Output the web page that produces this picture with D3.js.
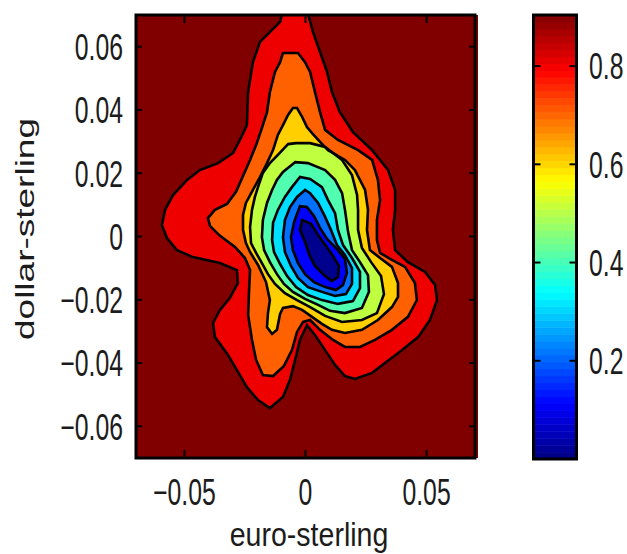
<!DOCTYPE html>
<html>
<head>
<meta charset="utf-8">
<script src="https://cdn.jsdelivr.net/npm/d3@7"></script>
<style>
  body { margin: 0; background: #fff; }
  text { font-family: "Liberation Sans", Arial, sans-serif; fill: #1c1c1c; }
</style>
</head>
<body>
<svg id="fig_contour" width="627" height="554"></svg>
<script>

// axes
var xDomain = [-0.07, 0.07];
var yDomain = [-0.07, 0.07];
var cDomain = [0, 0.904];
var xTicks = [-0.05, 0, 0.05];
var yTicks = [-0.06, -0.04, -0.02, 0, 0.02, 0.04, 0.06];
var cbarTicks = [0.2, 0.4, 0.6, 0.8];

// contour levels, and the colour of each filled band (highest band first)
var levels = [0.9, 0.8, 0.7, 0.6, 0.5, 0.4, 0.3, 0.2, 0.1];
var bandColors = ["#800000", "#ef0000", "#ff6000", "#ffcf00", "#bfff40",
                  "#50ffaf", "#00dfff", "#0070ff", "#0000ff", "#00008f"];

// jet colormap anchors for the colorbar
var jetStops = [0, 0.125, 0.375, 0.625, 0.875, 1];
var jetColors = ["#000080", "#0000ff", "#00ffff", "#ffff00", "#ff0000", "#800000"];

// contour rings [euro-sterling, dollar-sterling]
var ring_09 = [[-0.0093,0.0716],[0.0006,0.0716],[0.0031,0.0646],[0.0060,0.0583],[0.0089,0.0520],[0.0109,0.0457],
  [0.0142,0.0393],[0.0196,0.0330],[0.0275,0.0273],[0.0341,0.0210],[0.0370,0.0147],[0.0370,0.0084],[0.0361,0.0021],
  [0.0370,-0.0043],[0.0423,-0.0081],[0.0494,-0.0112],[0.0535,-0.0153],[0.0543,-0.0201],[0.0514,-0.0264],
  [0.0465,-0.0318],[0.0399,-0.0359],[0.0328,-0.0400],[0.0275,-0.0431],[0.0204,-0.0450],[0.0163,-0.0441],
  [0.0122,-0.0406],[0.0081,-0.0359],[0.0039,-0.0311],[0.0006,-0.0280],[-0.0023,-0.0327],[-0.0043,-0.0390],
  [-0.0064,-0.0453],[-0.0093,-0.0507],[-0.0147,-0.0542],[-0.0196,-0.0517],[-0.0242,-0.0476],[-0.0271,-0.0438],
  [-0.0320,-0.0374],[-0.0374,-0.0318],[-0.0382,-0.0273],[-0.0353,-0.0232],[-0.0312,-0.0194],[-0.0279,-0.0147],
  [-0.0283,-0.0106],[-0.0353,-0.0084],[-0.0465,-0.0065],[-0.0531,-0.0043],[-0.0572,-0.0005],[-0.0593,0.0036],
  [-0.0580,0.0084],[-0.0547,0.0131],[-0.0489,0.0179],[-0.0436,0.0210],[-0.0361,0.0232],[-0.0299,0.0264],
  [-0.0271,0.0305],[-0.0242,0.0352],[-0.0237,0.0457],[-0.0217,0.0551],[-0.0188,0.0615],[-0.0105,0.0678]];

var ring_08 = [[-0.0093,0.0580],[-0.0031,0.0580],[-0.0002,0.0551],[0.0019,0.0520],[0.0039,0.0457],[0.0060,0.0393],
  [0.0081,0.0337],[0.0134,0.0305],[0.0217,0.0273],[0.0275,0.0242],[0.0299,0.0179],[0.0308,0.0115],[0.0295,0.0052],
  [0.0295,-0.0011],[0.0308,-0.0052],[0.0357,-0.0074],[0.0411,-0.0096],[0.0452,-0.0147],[0.0460,-0.0201],
  [0.0423,-0.0254],[0.0357,-0.0295],[0.0287,-0.0327],[0.0225,-0.0349],[0.0163,-0.0349],[0.0114,-0.0327],
  [0.0060,-0.0295],[0.0019,-0.0264],[-0.0010,-0.0270],[-0.0035,-0.0302],[-0.0056,-0.0359],[-0.0089,-0.0409],
  [-0.0134,-0.0441],[-0.0176,-0.0438],[-0.0204,-0.0390],[-0.0221,-0.0327],[-0.0237,-0.0248],[-0.0233,-0.0169],
  [-0.0229,-0.0106],[-0.0250,-0.0068],[-0.0291,-0.0033],[-0.0353,0.0002],[-0.0394,0.0033],[-0.0403,0.0058],
  [-0.0374,0.0084],[-0.0324,0.0103],[-0.0287,0.0141],[-0.0258,0.0191],[-0.0229,0.0242],[-0.0204,0.0289],
  [-0.0180,0.0343],[-0.0159,0.0393],[-0.0147,0.0457],[-0.0126,0.0520],[-0.0105,0.0551]];

var ring_07 = [[-0.0052,0.0406],[-0.0035,0.0406],[-0.0014,0.0378],[0.0006,0.0346],[0.0027,0.0327],[0.0060,0.0299],
  [0.0093,0.0273],[0.0163,0.0242],[0.0204,0.0210],[0.0246,0.0147],[0.0258,0.0084],[0.0254,0.0021],[0.0266,-0.0043],
  [0.0308,-0.0068],[0.0357,-0.0096],[0.0382,-0.0147],[0.0382,-0.0191],[0.0357,-0.0223],[0.0299,-0.0264],
  [0.0233,-0.0295],[0.0163,-0.0305],[0.0109,-0.0295],[0.0068,-0.0276],[0.0027,-0.0254],[-0.0014,-0.0232],
  [-0.0052,-0.0220],[-0.0093,-0.0226],[-0.0105,-0.0245],[-0.0118,-0.0295],[-0.0138,-0.0308],[-0.0159,-0.0286],
  [-0.0155,-0.0242],[-0.0147,-0.0201],[-0.0163,-0.0144],[-0.0196,-0.0090],[-0.0229,-0.0049],[-0.0246,-0.0021],
  [-0.0258,0.0021],[-0.0258,0.0068],[-0.0246,0.0106],[-0.0217,0.0147],[-0.0188,0.0188],[-0.0159,0.0232],
  [-0.0134,0.0273],[-0.0114,0.0321],[-0.0093,0.0352],[-0.0072,0.0384]];

var ring_06 = [[-0.0072,0.0292],[-0.0114,0.0258],[-0.0147,0.0232],[-0.0176,0.0201],[-0.0192,0.0166],[-0.0209,0.0125],
  [-0.0221,0.0084],[-0.0229,0.0030],[-0.0225,-0.0021],[-0.0204,-0.0052],[-0.0180,-0.0084],[-0.0155,-0.0119],
  [-0.0126,-0.0150],[-0.0085,-0.0179],[-0.0035,-0.0201],[0.0019,-0.0223],[0.0081,-0.0251],[0.0151,-0.0270],
  [0.0233,-0.0264],[0.0295,-0.0242],[0.0324,-0.0182],[0.0312,-0.0125],[0.0271,-0.0081],[0.0233,-0.0036],
  [0.0217,0.0021],[0.0217,0.0084],[0.0213,0.0131],[0.0192,0.0194],[0.0151,0.0242],[0.0081,0.0283],
  [0.0019,0.0295],[-0.0039,0.0295]];

var ring_05 = [[-0.0043,0.0235],[-0.0093,0.0204],[-0.0118,0.0179],[-0.0138,0.0147],[-0.0159,0.0106],[-0.0176,0.0052],
  [-0.0180,-0.0002],[-0.0171,-0.0043],[-0.0147,-0.0081],[-0.0118,-0.0119],[-0.0089,-0.0150],[-0.0052,-0.0175],
  [-0.0002,-0.0197],[0.0052,-0.0216],[0.0101,-0.0235],[0.0163,-0.0242],[0.0233,-0.0226],[0.0262,-0.0175],
  [0.0258,-0.0122],[0.0225,-0.0081],[0.0192,-0.0043],[0.0176,0.0014],[0.0163,0.0084],[0.0151,0.0137],
  [0.0122,0.0179],[0.0081,0.0210],[0.0010,0.0232]];

var ring_04 = [[-0.0023,0.0188],[-0.0056,0.0156],[-0.0085,0.0125],[-0.0114,0.0084],[-0.0134,0.0043],[-0.0138,-0.0011],
  [-0.0130,-0.0049],[-0.0105,-0.0087],[-0.0076,-0.0125],[-0.0039,-0.0160],[0.0010,-0.0185],[0.0068,-0.0201],
  [0.0134,-0.0213],[0.0196,-0.0204],[0.0225,-0.0163],[0.0225,-0.0112],[0.0192,-0.0068],[0.0155,-0.0027],
  [0.0134,0.0021],[0.0122,0.0074],[0.0093,0.0115],[0.0068,0.0156],[0.0019,0.0182]];

var ring_03 = [[-0.0002,0.0147],[-0.0035,0.0125],[-0.0064,0.0093],[-0.0085,0.0052],[-0.0093,-0.0002],[-0.0085,-0.0049],
  [-0.0060,-0.0093],[-0.0031,-0.0131],[0.0010,-0.0160],[0.0068,-0.0175],[0.0122,-0.0188],[0.0167,-0.0182],
  [0.0192,-0.0150],[0.0192,-0.0100],[0.0163,-0.0058],[0.0130,-0.0027],[0.0105,0.0021],[0.0081,0.0062],
  [0.0052,0.0106],[0.0019,0.0137]];

var ring_02 = [[-0.0023,0.0096],[-0.0047,0.0046],[-0.0060,-0.0002],[-0.0052,-0.0043],[-0.0031,-0.0084],[-0.0002,-0.0119],
  [0.0035,-0.0144],[0.0081,-0.0160],[0.0126,-0.0169],[0.0155,-0.0153],[0.0171,-0.0115],[0.0163,-0.0071],
  [0.0130,-0.0040],[0.0089,-0.0008],[0.0060,0.0027],[0.0035,0.0065],[0.0006,0.0093]];

var ring_01 = [[-0.0014,0.0052],[0.0023,0.0040],[0.0052,0.0005],[0.0085,-0.0030],[0.0114,-0.0062],[0.0138,-0.0093],
  [0.0134,-0.0128],[0.0109,-0.0141],[0.0081,-0.0125],[0.0039,-0.0093],[0.0014,-0.0055],[-0.0002,-0.0017],
  [-0.0023,0.0021]];

var rings = [ring_09, ring_08, ring_07, ring_06, ring_05, ring_04, ring_03, ring_02, ring_01];


function draw_contour_fig(){

    var svg = d3.select("#fig_contour");
    svg.selectAll("*").remove();

    var x = d3.scaleLinear().domain(xDomain).range([136, 475]);
    var y = d3.scaleLinear().domain(yDomain).range([458, 15]);
    var c = d3.scaleLinear().domain(cDomain).range([459, 15]);
    var jet = d3.scaleLinear().domain(jetStops).range(jetColors);

    var fmt2 = function(v){ return v === 0 ? "0" : d3.format(".2f")(v); };

    // clip for the filled contours
    svg.append("clipPath").attr("id", "plot_clip")
        .append("rect")
        .attr("x", x.range()[0]).attr("y", y.range()[1])
        .attr("width", x.range()[1] - x.range()[0])
        .attr("height", y.range()[0] - y.range()[1]);

    // background = band above the top level (runs 3px past the right frame, as in the original)
    svg.append("rect")
        .attr("x", x.range()[0]).attr("y", y.range()[1])
        .attr("width", x.range()[1] - x.range()[0] + 3)
        .attr("height", y.range()[0] - y.range()[1])
        .attr("fill", bandColors[0]);

    var line = d3.line()
        .x(function(d){ return x(d[0]); })
        .y(function(d){ return y(d[1]); })
        .curve(d3.curveLinearClosed);

    var cg = svg.append("g").attr("clip-path", "url(#plot_clip)");

    cg.selectAll("path.band")
        .data(rings)
        .join("path")
        .attr("class", "band")
        .attr("d", line)
        .attr("fill", function(d, i){ return bandColors[i + 1]; });

    cg.selectAll("path.iso")
        .data(rings)
        .join("path")
        .attr("class", "iso")
        .attr("d", line)
        .attr("fill", "none")
        .attr("stroke", "#000")
        .attr("stroke-width", 2.6)
        .attr("stroke-linejoin", "miter");

    // frame + inward ticks
    var x0 = x.range()[0], x1 = x.range()[1], y0 = y.range()[1], y1 = y.range()[0];
    var tk = svg.append("g").attr("stroke", "#000").attr("stroke-width", 2);

    xTicks.forEach(function(v){
        tk.append("line").attr("x1", x(v)).attr("x2", x(v)).attr("y1", y1).attr("y2", y1 - 8);
        tk.append("line").attr("x1", x(v)).attr("x2", x(v)).attr("y1", y0).attr("y2", y0 + 8);
    });
    yTicks.forEach(function(v){
        tk.append("line").attr("x1", x0).attr("x2", x0 + 6).attr("y1", y(v)).attr("y2", y(v));
        tk.append("line").attr("x1", x1).attr("x2", x1 - 6).attr("y1", y(v)).attr("y2", y(v));
    });

    svg.append("rect")
        .attr("x", x0).attr("y", y0)
        .attr("width", x1 - x0).attr("height", y1 - y0)
        .attr("fill", "none").attr("stroke", "#000").attr("stroke-width", 3);

    // tick labels (the original is squeezed sideways, hence the x scale)
    xTicks.forEach(function(v){
        svg.append("text")
            .attr("transform", "translate(" + x(v) + ",505) scale(0.67,1)")
            .attr("text-anchor", "middle")
            .style("font-size", "37px")
            .text(fmt2(v));
    });
    yTicks.forEach(function(v){
        svg.append("text")
            .attr("transform", "translate(123," + y(v) + ") scale(0.67,1)")
            .attr("text-anchor", "end")
            .attr("dy", "0.36em")
            .style("font-size", "37px")
            .text(fmt2(v));
    });

    // axis titles
    svg.append("text")
        .attr("transform", "translate(309,546) scale(0.84,1)")
        .attr("text-anchor", "middle")
        .style("font-size", "34px")
        .text("euro-sterling");

    svg.append("text")
        .attr("transform", "translate(34,229) scale(0.7,1) rotate(-90)")
        .attr("text-anchor", "middle")
        .style("font-size", "37px")
        .text("dollar-sterling");

    // colorbar, 64 steps of jet
    var cbx0 = 533.5, cbx1 = 576.5;
    var steps = d3.range(64);
    svg.append("g").selectAll("rect")
        .data(steps)
        .join("rect")
        .attr("x", cbx0)
        .attr("width", cbx1 - cbx0)
        .attr("y", function(i){ return c((i + 1) / 64 * cDomain[1]); })
        .attr("height", function(i){ return c(i / 64 * cDomain[1]) - c((i + 1) / 64 * cDomain[1]) + 0.5; })
        .attr("fill", function(i){ return jet((i + 0.5) / 64); });

    var cbt = svg.append("g").attr("stroke", "#000").attr("stroke-width", 2);
    cbarTicks.forEach(function(v){
        cbt.append("line").attr("x1", cbx0).attr("x2", cbx0 + 7).attr("y1", c(v)).attr("y2", c(v));
        cbt.append("line").attr("x1", cbx1).attr("x2", cbx1 - 7).attr("y1", c(v)).attr("y2", c(v));
    });

    svg.append("rect")
        .attr("x", cbx0).attr("y", c.range()[1])
        .attr("width", cbx1 - cbx0).attr("height", c.range()[0] - c.range()[1])
        .attr("fill", "none").attr("stroke", "#000").attr("stroke-width", 3);

    cbarTicks.forEach(function(v){
        svg.append("text")
            .attr("transform", "translate(589," + c(v) + ") scale(0.67,1)")
            .attr("dy", "0.36em")
            .style("font-size", "37px")
            .text(d3.format(".1f")(v));
    });
}

draw_contour_fig();

</script>
</body>
</html>
